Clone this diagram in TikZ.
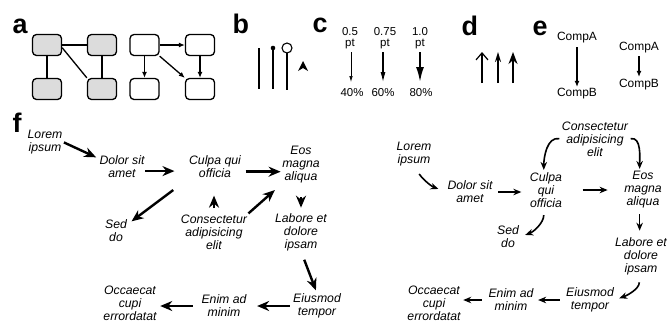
\documentclass[tikz,border=0pt]{standalone}
\usepackage{fontspec}
\setmainfont{Liberation Sans}
\usetikzlibrary{arrows.meta}
\definecolor{boxgray}{HTML}{DCDCDC}
\tikzstyle{gbox} = [draw, fill=boxgray, rectangle, rounded corners=4bp,
    line width=1.3bp, minimum width=29bp, minimum height=21bp]
\tikzstyle{wbox} = [gbox, fill=white]
\tikzstyle{panel} = [font=\fontsize{27}{27}\selectfont\bfseries, anchor=base west, inner sep=0pt]
\tikzstyle{word} = [font=\fontsize{12.3}{13}\selectfont\itshape, align=center, inner sep=0pt]
\tikzstyle{comp} = [font=\fontsize{12}{12}\selectfont, inner sep=0pt]
\tikzstyle{pts} = [font=\fontsize{11.5}{11.5}\selectfont, inner sep=0pt]
\tikzstyle{fat} = [-{Stealth[length=12bp,width=10bp]}, line width=2.4bp]
\tikzstyle{slim} = [-{Stealth[length=8bp,width=6.5bp]}, line width=1.6bp]

\begin{document}
\begin{tikzpicture}[>={Latex[length=6bp,width=5bp]}, x=1bp, y=-1bp, line width=1.3bp]
      \useasboundingbox (0,0) rectangle (670,323);
      % panel letters
      \node[panel] (lab_a) at (12,33) {a};
      \node[panel] (lab_b) at (232,33) {b};
      \node[panel] (lab_c) at (312,32) {c};
      \node[panel] (lab_d) at (461,35) {d};
      \node[panel] (lab_e) at (532,35) {e};
      \node[panel] (lab_f) at (12,132) {f};

      % panel a: undirected and directed boxes
      \node[gbox] (a_ul) at (47,45) {};
      \node[gbox] (a_ur) at (102,45) {};
      \node[gbox] (a_ll) at (47,89) {};
      \node[gbox] (a_lr) at (102,89) {};
      \draw (a_ul) -- (a_ur);
      \draw (a_ul) -- (a_ll);
      \draw (a_ur) -- (a_lr);
      \draw (a_ul.-10) -- (a_lr.north west);

      \node[wbox] (d_ul) at (144.5,45) {};
      \node[wbox] (d_ur) at (200,45) {};
      \node[wbox] (d_ll) at (144.5,89) {};
      \node[wbox] (d_lr) at (200,89) {};
      \draw[->] (d_ul) -- (d_ur);
      \draw[->] (d_ul) -- (d_ll);
      \draw[->] (d_ur) -- (d_lr);
      \draw[->] (d_ul.south east) -- (d_lr.north west);

      % panel b: line ends
      \draw (259,48) -- (259,89);
      \draw (273,48) -- (273,89);
      \fill (273,48) circle (2.3bp);
      \draw (287,53) -- (287,90);
      \draw[line width=1.1bp] (287,48) circle (5bp);
      \fill (303,61) -- (308,71) -- (303,68) -- (298,71) -- cycle;

      % panel c: line weights and head sizes
      \node[pts] (w_1) at (350,31.5) {0.5};
      \node[pts] (w_2) at (385,31.5) {0.75};
      \node[pts] (w_3) at (420,31.5) {1.0};
      \node[pts] (u_1) at (350,44) {pt};
      \node[pts] (u_2) at (385,44) {pt};
      \node[pts] (u_3) at (420,44) {pt};
      \draw[-{Latex[length=6bp,width=3.5bp]}, line width=0.7bp] (351,52) -- (351,82);
      \draw[-{Latex[length=10bp,width=5bp]}, line width=1.1bp] (383,52) -- (383,82);
      \draw[-{Latex[length=15bp,width=8bp]}, line width=1.9bp] (420,52) -- (420,82);
      \node[pts] (h_1) at (352,93) {40\%};
      \node[pts] (h_2) at (383,93) {60\%};
      \node[pts] (h_3) at (421,93) {80\%};

      % panel d: head styles
      \draw[-{Straight Barb[length=7bp,width=12bp]}, line width=1.2bp] (482,83) -- (482,52);
      \draw[-{Stealth[length=10bp,width=6bp]}, line width=1.8bp] (498,83) -- (498,52);
      \draw[-{Stealth[length=12bp,width=9bp]}, line width=1.8bp] (513,83) -- (513,52);

      % panel e: arrow length
      \node[comp] (ea_1) at (577,38) {CompA};
      \node[comp] (eb_1) at (577,94) {CompB};
      \node[comp] (ea_2) at (639,48) {CompA};
      \node[comp] (eb_2) at (639,85) {CompB};
      \draw[->, line width=1.2bp, shorten <=3bp, shorten >=1bp] (ea_1) -- (eb_1);
      \draw[->, line width=1.2bp, shorten <=2bp, shorten >=2bp] (ea_2) -- (eb_2);

      % panel f, left: heavy straight arrows
      \node[word] (lorem_l) at (45,142) {Lorem\\ipsum};
      \node[word] (dolor_l) at (122,167) {Dolor sit\\amet};
      \node[word] (culpa_l) at (215,167) {Culpa qui\\officia};
      \node[word] (eos_l) at (301,165) {Eos\\magna\\aliqua};
      \node[word] (sed_l) at (116,231) {Sed\\do};
      \node[word] (consect_l) at (214,232) {Consectetur\\adipisicing\\elit};
      \node[word] (labore_l) at (301,232) {Labore et\\dolore\\ipsam};
      \node[word] (eius_l) at (317,306) {Eiusmod\\tempor};
      \node[word] (enim_l) at (224,306) {Enim ad\\minim};
      \node[word] (occ_l) at (130,303) {Occaecat\\cupi\\errordatat};

      \draw[fat, shorten <=1bp, shorten >=3bp] (lorem_l.east) -- (dolor_l.160);
      \draw[fat, shorten >=14bp] (dolor_l.-10) -- (dolor_l.-10 -| culpa_l.west);
      \draw[fat, shorten <=4bp, shorten >=1bp] (culpa_l.-10) -- (culpa_l.-10 -| eos_l.west);
      \draw[fat, shorten <=19bp, shorten >=5bp] (culpa_l.south west) -- (sed_l.30);
      \draw[fat, shorten <=6bp, shorten >=17bp] (consect_l.north) -- (consect_l.north |- culpa_l.south);
      \draw[fat, shorten <=1bp, shorten >=9bp] (consect_l.north east) -- (eos_l.south west);
      \draw[fat, shorten <=13bp, shorten >=5bp] (labore_l.north |- eos_l.south) -- (labore_l.north);
      \draw[fat, shorten <=9bp, shorten >=3bp] (labore_l.south) -- (eius_l.north);
      \draw[fat, shorten <=3bp, shorten >=10bp] (eius_l.west) -- (eius_l.west -| enim_l.east);
      \draw[fat, shorten <=8bp, shorten >=3bp] (enim_l.west) -- (enim_l.west -| occ_l.east);

      % panel f, right: light curved arrows
      \node[word] (lorem_r) at (414,154) {Lorem\\ipsum};
      \node[word] (dolor_r) at (470,192) {Dolor sit\\amet};
      \node[word] (culpa_r) at (546,190) {Culpa\\qui\\officia};
      \node[word] (eos_r) at (643,190) {Eos\\magna\\aliqua};
      \node[word] (consect_r) at (595,139) {Consectetur\\adipisicing\\elit};
      \node[word] (sed_r) at (508,237) {Sed\\do};
      \node[word] (labore_r) at (641,256) {Labore et\\dolore\\ipsam};
      \node[word] (eius_r) at (590,300) {Eiusmod\\tempor};
      \node[word] (enim_r) at (511,300) {Enim ad\\minim};
      \node[word] (occ_r) at (434,303) {Occaecat\\cupi\\errordatat};

      \draw[slim, shorten <=9bp, shorten >=9bp] (lorem_r.south) to[out=-55, in=160] (dolor_r.west);
      \draw[slim, shorten <=5bp, shorten >=8bp] (dolor_r.east) -- (dolor_r.east -| culpa_r.west);
      \draw[slim, shorten <=20bp, shorten >=16bp] (culpa_r.east) -- (culpa_r.east -| eos_r.west);
      \draw[slim, shorten <=2bp, shorten >=2bp] (consect_r.west) to[out=170, in=90] (culpa_r.97);
      \draw[slim, shorten <=2bp, shorten >=2bp] (consect_r.east) to[out=10, in=90] (eos_r.100);
      \draw[slim, shorten <=7bp, shorten >=6bp] (culpa_r.-97) to[out=-90, in=20] (sed_r.east);
      \draw[slim, shorten <=5bp, shorten >=6bp] (eos_r.-100) -- (eos_r.-100 |- labore_r.north);
      \draw[slim, shorten <=7bp, shorten >=5bp] (labore_r.-95) to[out=-90, in=20] (eius_r.east);
      \draw[slim, shorten <=6bp, shorten >=4bp] (eius_r.west) -- (eius_r.west -| enim_r.east);
      \draw[slim, shorten <=6bp, shorten >=2bp] (enim_r.west) -- (enim_r.west -| occ_r.east);
\end{tikzpicture}
\end{document}
